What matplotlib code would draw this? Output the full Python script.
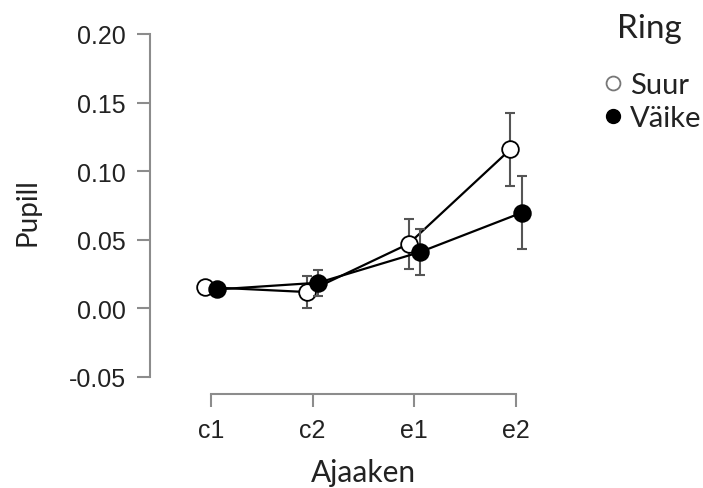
import matplotlib.pyplot as plt
from matplotlib.lines import Line2D

# data
categories = ["c1", "c2", "e1", "e2"]
suur_mean = [0.0155, 0.0119, 0.0471, 0.1159]
suur_err = [0.003, 0.0118, 0.0182, 0.0265]
vaike_mean = [0.0138, 0.0187, 0.0410, 0.0697]
vaike_err = [0.003, 0.0095, 0.0170, 0.0265]
yticks = [-0.05, 0.00, 0.05, 0.10, 0.15, 0.20]

label_font = "Lato"
tick_font = "Liberation Sans"
grey = "#8c8c8c"
text_col = "#222222"

fig = plt.figure(figsize=(7.03, 4.89), dpi=100)
ax = fig.add_axes([150 / 703, 1 - 395 / 489, 427 / 703, 365 / 489])

x = list(range(len(categories)))
dodge = 0.055
x_suur = [v - dodge for v in x]
x_vaike = [v + dodge for v in x]

# Suur (open circles) drawn first, Väike on top
ax.errorbar(x_suur, suur_mean, yerr=suur_err, fmt="none", ecolor="#555555",
            elinewidth=1.5, capsize=3.8, capthick=1.5, zorder=2)
ax.plot(x_suur, suur_mean, color="black", linewidth=1.6, marker="o",
        markersize=12, markerfacecolor="white", markeredgecolor="black",
        markeredgewidth=1.3, zorder=3)
ax.errorbar(x_vaike, vaike_mean, yerr=vaike_err, fmt="none", ecolor="#555555",
            elinewidth=1.5, capsize=3.8, capthick=1.5, zorder=4)
ax.plot(x_vaike, vaike_mean, color="black", linewidth=1.6, marker="o",
        markersize=12, markerfacecolor="black", markeredgecolor="black",
        markeredgewidth=1.3, zorder=5)

ax.set_xlim(-0.6, 3.6)
ax.set_ylim(-0.0624, 0.2036)

ax.set_xticks(x)
ax.set_xticklabels(categories)
ax.set_yticks(yticks)
ax.set_yticklabels(["%.2f" % v for v in yticks])

for s in ["top", "right"]:
    ax.spines[s].set_visible(False)
ax.spines["left"].set_bounds(-0.05, 0.20)
ax.spines["bottom"].set_bounds(0, 3)
for s in ["left", "bottom"]:
    ax.spines[s].set_color(grey)
    ax.spines[s].set_linewidth(1.5)

ax.tick_params(axis="both", colors=grey, width=1.5, length=9.5, labelsize=18,
               labelcolor=text_col)
ax.tick_params(axis="y", pad=8)
ax.tick_params(axis="x", pad=8)
for lab in ax.get_xticklabels() + ax.get_yticklabels():
    lab.set_fontfamily(tick_font)

ax.set_xlabel("Ajaaken", fontsize=21.5, fontfamily=label_font, color=text_col, labelpad=11)
ax.set_ylabel("Pupill", fontsize=20, fontfamily=label_font, color=text_col, labelpad=20)

# legend
fig.text(617 / 703, 1 - 38 / 489, "Ring", fontsize=24, fontfamily=label_font,
         color=text_col, ha="left", va="baseline")
handles = [
    Line2D([], [], linestyle="none", marker="o", markersize=10,
           markerfacecolor="white", markeredgecolor="#777777", markeredgewidth=1.3),
    Line2D([], [], linestyle="none", marker="o", markersize=10,
           markerfacecolor="black", markeredgecolor="black"),
]
leg = fig.legend(handles, ["Suur", "Väike"], loc="upper left",
                 bbox_to_anchor=(604 / 703, 1 - 73 / 489), frameon=False,
                 borderpad=0, borderaxespad=0,
                 handlelength=0.6, handletextpad=0.3, labelspacing=0.25,
                 prop={"family": label_font, "size": 21})
for t in leg.get_texts():
    t.set_color(text_col)

fig.savefig("out.png", dpi=100)
